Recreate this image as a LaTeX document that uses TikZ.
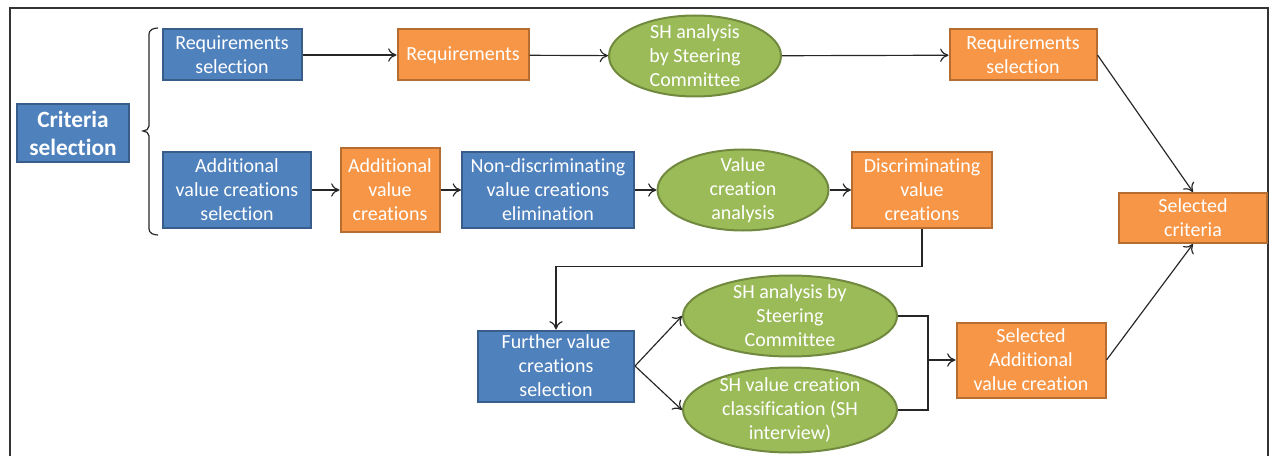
\documentclass[tikz,border=0pt]{standalone}
\usepackage{fontspec}
\setmainfont{Carlito}[Ligatures={NoCommon}]
\usetikzlibrary{shapes.geometric,arrows.meta}
\definecolor{boxblue}{HTML}{4F81BD}
\definecolor{blueline}{HTML}{385D8A}
\definecolor{boxorange}{HTML}{F79646}
\definecolor{orangeline}{HTML}{B66D31}
\definecolor{boxgreen}{HTML}{9BBB59}
\definecolor{greenline}{HTML}{71893F}
\newcommand{\pxl}{0.6pt}

\begin{document}
\begin{tikzpicture}[x=0.6pt,y=-0.6pt]
        \tikzstyle{every node}=[text=white, align=center, inner sep=0pt, font=\fontsize{12}{14.4}\selectfont, line width=1.2pt]
        \tikzstyle{blue box}=[rectangle, draw=blueline, fill=boxblue]
        \tikzstyle{orange box}=[rectangle, draw=orangeline, fill=boxorange]
        \tikzstyle{green oval}=[ellipse, draw=greenline, fill=boxgreen, inner ysep=-4pt]
        \tikzstyle{link}=[-{To[length=5pt,width=8pt]}, line width=0.7pt, black!85]
        \useasboundingbox (0,0) rectangle (1276,456);
        \draw[line width=1.1pt, black!80] (10,456) -- (10,8) -- (1268,8) -- (1268,456);
        % left part
        \node[blue box, minimum width=112*\pxl, minimum height=58*\pxl, font=\fontsize{14}{16.8}\selectfont\bfseries] (crit) at (73,133) {Criteria\\selection};
        \draw[line width=0.7pt, black!85] (158,28) to[out=180,in=90] (149,34) -- (149,126) to[out=-90,in=0] (143,131) to[out=0,in=90] (149,136) -- (149,229) to[out=-90,in=180] (158,235);
        % first row
        \node[blue box, minimum width=139*\pxl, minimum height=51*\pxl] (reqsel) at (232,55) {Requirements\\selection};
        \node[orange box, minimum width=131*\pxl, minimum height=51*\pxl] (req) at (463,55) {Requirements};
        \node[green oval, minimum width=172*\pxl, minimum height=81*\pxl] (shone) at (695,56) {SH analysis\\by Steering\\Committee};
        \node[orange box, minimum width=147*\pxl, minimum height=51*\pxl] (reqout) at (1023,55) {Requirements\\selection};
        % second row
        \node[blue box, minimum width=148*\pxl, minimum height=75*\pxl] (addsel) at (237,190) {Additional\\value creations\\selection};
        \node[orange box, minimum width=99*\pxl, minimum height=83*\pxl] (addval) at (390,190) {Additional\\value\\creations};
        \node[blue box, minimum width=172*\pxl, minimum height=75*\pxl] (nondisc) at (548,190) {Non-discriminating\\value creations\\elimination};
        \node[green oval, minimum width=171*\pxl, minimum height=81*\pxl] (vca) at (743,190) {Value\\creation\\analysis};
        \node[orange box, minimum width=140*\pxl, minimum height=75*\pxl] (disc) at (922,190) {Discriminating\\value\\creations};
        \node[orange box, minimum width=148*\pxl, minimum height=50*\pxl] (selcrit) at (1193,218) {Selected\\criteria};
        % third row
        \node[blue box, minimum width=156*\pxl, minimum height=71*\pxl] (further) at (556,366) {Further value\\creations\\selection};
        \node[green oval, minimum width=214*\pxl, minimum height=81*\pxl] (shtwo) at (790,316) {SH analysis by\\Steering\\Committee};
        \node[green oval, minimum width=214*\pxl, minimum height=85*\pxl] (shclass) at (790,410) {SH value creation\\classification (SH\\interview)};
        \node[orange box, minimum width=149*\pxl, minimum height=75*\pxl] (seladd) at (1031,360) {Selected\\Additional\\value creation};
        \coordinate (join) at (928,360);
        % connectors
        \draw[link] (reqsel) -- (req);
        \draw[link] (req) -- (shone);
        \draw[link] (shone) -- (reqout);
        \draw[link] (reqout.east) -- (selcrit.north);
        \draw[link] (addsel) -- (addval);
        \draw[link] (addval) -- (nondisc);
        \draw[link] (nondisc) -- (vca);
        \draw[link] (vca) -- (disc);
        \draw[link] (disc.south) -- ++(0,38) -| (further.north);
        \draw[link] (further.east) -- (shtwo.west);
        \draw[link] (further.east) -- (shclass.west);
        \draw[line width=0.7pt, black!85] (shtwo.east) -| (join);
        \draw[line width=0.7pt, black!85] (shclass.east) -| (join);
        \draw[link] (join) -- (seladd.west);
        \draw[link] (seladd.east) -- (selcrit.south);
    \end{tikzpicture}
\end{document}
